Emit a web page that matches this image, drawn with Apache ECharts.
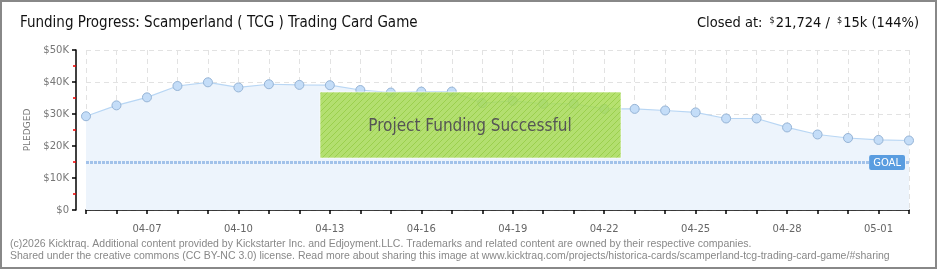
<!DOCTYPE html>
<html>
<head>
<meta charset="utf-8">
<script src="https://cdn.jsdelivr.net/npm/echarts@6/dist/echarts.min.js"></script>
<style>
  html, body { margin: 0; padding: 0; background: #fff; }
  #chart { width: 940px; height: 270px; }
</style>
</head>
<body>
<div id="chart"></div>
<script>
// Daily pledge totals for the campaign (USD)
const days = [
  '04-05','04-06','04-07','04-08','04-09','04-10','04-11','04-12','04-13','04-14',
  '04-15','04-16','04-17','04-18','04-19','04-20','04-21','04-22','04-23','04-24',
  '04-25','04-26','04-27','04-28','04-29','04-30','05-01','05-02'
];
const pledged = [
  29300, 32700, 35200, 38750, 39900, 38300, 39300, 39100, 39000, 37500,
  36700, 37000, 37000, 33400, 34100, 33200, 33200, 31600, 31600, 31100,
  30500, 28600, 28600, 25800, 23600, 22500, 21900, 21724
];
const goal = 15000;
const yTicks = [0, 10000, 20000, 30000, 40000, 50000];

const titleFont = '"DejaVu Sans Condensed", "DejaVu Sans", sans-serif';
const smallFont = '"DejaVu Sans", sans-serif';

// diagonal hatch used by the success banner
function hatch() {
  const c = document.createElement('canvas');
  c.width = 6; c.height = 6;
  const g = c.getContext('2d');
  g.fillStyle = 'rgba(166,218,80,0.82)';
  g.fillRect(0, 0, 6, 6);
  g.strokeStyle = 'rgba(150,205,70,0.85)';
  g.lineWidth = 1;
  g.beginPath();
  g.moveTo(0, 6); g.lineTo(6, 0);
  g.moveTo(-3, 3); g.lineTo(3, -3);
  g.moveTo(3, 9); g.lineTo(9, 3);
  g.stroke();
  return c;
}

const chart = echarts.init(document.getElementById('chart'), null, { renderer: 'canvas' });
chart.setOption({
  animation: false,
  backgroundColor: '#fff',
  title: [
    {
      text: 'Funding Progress: Scamperland ( TCG ) Trading Card Game',
      left: 20, top: 16, padding: 0,
      textStyle: { fontFamily: titleFont, fontSize: 15, fontWeight: 'normal', color: '#111' }
    },
    {
      text: '{a|Closed at: }{s|$}{a|21,724 / }{s|$}{a|15k (144%)}',
      right: 21, top: 16, padding: 0,
      textStyle: {
        fontWeight: 'normal',
        rich: {
          a: { fontFamily: titleFont, fontSize: 14.5, fontWeight: 'normal', color: '#111' },
          s: { fontFamily: titleFont, fontSize: 9, fontWeight: 'normal', color: '#111', verticalAlign: 'top', padding: [0, 1, 6, 3] }
        }
      }
    }
  ],
  grid: { left: 86, right: 31, top: 50, bottom: 60 },
  xAxis: {
    type: 'category',
    data: days,
    boundaryGap: false,
    offset: 9,
    axisLine: { lineStyle: { color: '#000', width: 1.5 } },
    axisTick: { interval: 0, length: 4, lineStyle: { color: '#000', width: 1.5 } },
    axisLabel: {
      interval: (i) => i % 3 === 2,
      color: '#666', fontFamily: smallFont, fontSize: 10, margin: 5
    },
    splitLine: { show: true, interval: 0, lineStyle: { color: '#e2e2e2', type: [5, 4] } }
  },
  yAxis: {
    type: 'value',
    min: yTicks[0], max: yTicks[yTicks.length - 1], interval: 10000,
    offset: 10,
    name: 'PLEDGED',
    nameLocation: 'middle',
    nameGap: 38,
    nameTextStyle: { color: '#777', fontFamily: smallFont, fontSize: 9, letterSpacing: 2 },
    axisLine: { show: true, lineStyle: { color: '#000', width: 1.5 } },
    axisTick: { show: true, length: 4, lineStyle: { color: '#000', width: 1.5 } },
    minorTick: { show: true, splitNumber: 2, length: 3, lineStyle: { color: '#e00', width: 1.5 } },
    axisLabel: {
      color: '#777', fontFamily: smallFont, fontSize: 10, margin: 7,
      formatter: (v) => v === 0 ? '$0' : '$' + (v / 1000) + 'K'
    },
    splitLine: { show: true, lineStyle: { color: '#e2e2e2', type: [5, 4] } }
  },
  series: [{
    type: 'line',
    data: pledged,
    symbol: 'circle',
    symbolSize: 9,
    lineStyle: { color: '#b8d6f4', width: 1.2 },
    itemStyle: { color: '#c4ddf8', borderColor: '#96b4d6', borderWidth: 1 },
    areaStyle: { color: '#edf4fc', opacity: 1 },
    z: 2,
    markLine: {
      silent: true,
      symbol: 'none',
      lineStyle: { color: '#a2c2ea', width: 3, type: [3, 1] },
      label: {
        show: true,
        position: 'insideEndTop',
        distance: [4, -8],
        formatter: 'GOAL',
        color: '#fff',
        backgroundColor: '#5a9de0',
        fontFamily: smallFont,
        fontSize: 10,
        padding: [3, 4, 2, 4],
        borderRadius: 2
      },
      data: [{ yAxis: goal }]
    }
  }],
  graphic: [
    {
      type: 'rect', z: 100,
      shape: { x: 320, y: 92, width: 301, height: 66 },
      style: { fill: { image: hatch(), repeat: 'repeat' }, stroke: 'rgba(255,255,255,0.6)', lineWidth: 1 }
    },
    {
      type: 'text', z: 101,
      x: 470, y: 127,
      style: {
        text: 'Project Funding Successful',
        font: '17px ' + titleFont,
        fill: '#555',
        align: 'center', verticalAlign: 'middle',
        textShadowColor: '#fff', textShadowOffsetX: 1, textShadowOffsetY: 1, textShadowBlur: 0
      }
    },
    {
      type: 'text', z: 50,
      x: 10, y: 238,
      style: {
        text: '(c)2026 Kicktraq. Additional content provided by Kickstarter Inc. and Edjoyment.LLC. Trademarks and related content are owned by their respective companies.\nShared under the creative commons (CC BY-NC 3.0) license. Read more about sharing this image at www.kicktraq.com/projects/historica-cards/scamperland-tcg-trading-card-game/#sharing',
        font: '10.5px "Liberation Sans", sans-serif',
        lineHeight: 12,
        fill: '#888'
      }
    },
    {
      type: 'rect', z: 200, silent: true,
      shape: { x: 1, y: 1, width: 935, height: 267 },
      style: { fill: 'none', stroke: '#888', lineWidth: 2 }
    }
  ]
});
</script>
</body>
</html>
